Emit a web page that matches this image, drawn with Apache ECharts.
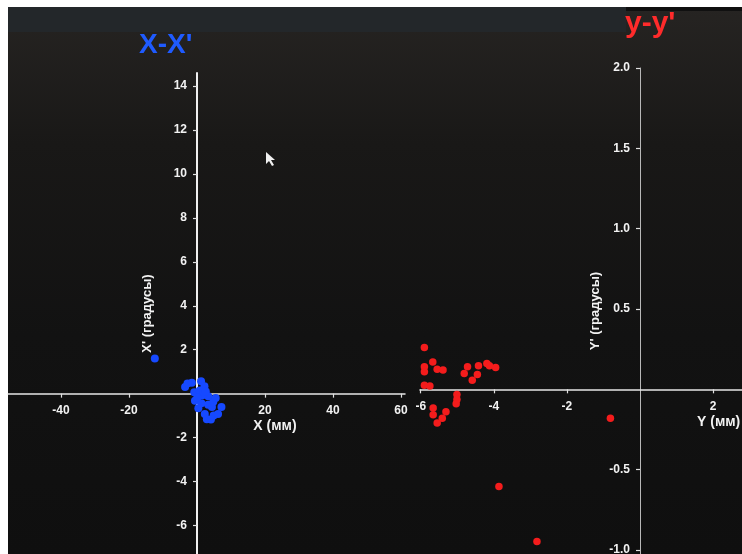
<!DOCTYPE html>
<html>
<head>
<meta charset="utf-8">
<script src="https://cdn.jsdelivr.net/npm/echarts@6/dist/echarts.min.js"></script>
<style>
html,body{margin:0;padding:0;background:#ffffff;overflow:hidden;}
#chart{width:742px;height:554px;}
</style>
</head>
<body>
<div id="chart"></div>
<script>
// X-X' plot (blue): X (mm) vs X' (degrees)
const blueX = [-12.4, -3.5, -2.8, -1.5, 1.2, 2.2, -0.8, 0.8, 3.3, -0.6, 1.3, 3.3, 4.8, 4.4, 7.2, 0.4, 2.3, 4.9, 6.2, 2.9, 4.1, 1.6, 0.1, 2.6, 5.5];
const blueY = [1.6, 0.3, 0.46, 0.5, 0.56, 0.34, 0.07, 0.14, -0.12, -0.32, -0.44, -0.51, -0.37, -0.61, -0.61, -0.66, -0.93, -0.99, -0.93, -1.17, -1.18, -0.07, -0.17, 0.1, -0.2];
// y-y' plot (red): Y (mm) vs Y' (degrees)
const redX = [-5.9, -5.67, -5.9, -5.9, -5.55, -5.39, -5.9, -5.75, -5.66, -5.66, -5.55, -5.41, -5.31, -5.01, -5.01, -5.03, -4.81, -4.72, -4.59, -4.45, -4.42, -4.19, -4.12, -3.95, -0.81, -3.86, -2.82];
const redY = [0.26, 0.17, 0.14, 0.11, 0.125, 0.12, 0.025, 0.02, -0.117, -0.158, -0.21, -0.18, -0.14, -0.033, -0.063, -0.09, 0.098, 0.14, 0.056, 0.092, 0.146, 0.16, 0.146, 0.136, -0.18, -0.605, -0.947];
// tick labels
const leftXTicks = [-40, -20, 20, 40, 60];
const leftYTicks = [-6, -4, -2, 2, 4, 6, 8, 10, 12, 14];
const rightXTicks = [-6, -4, -2, 2];
const rightYTicks = [-1.0, -0.5, 0.5, 1.0, 1.5, 2.0];

const titleLeft = "X-X'";
const titleRight = "y-y'";

const blueData = blueX.map((v, i) => [v, blueY[i]]);
const redData = redX.map((v, i) => [v, redY[i]]);

const FONT = 'Liberation Sans, Arial, sans-serif';
const labelStyle = {color: '#f2f2f2', fontWeight: 'bold', fontSize: 12, fontFamily: FONT};
const nameStyle = {color: '#f2f2f2', fontWeight: 'bold', fontSize: 14, fontFamily: FONT};

// grid layouts (pixels)
const G0 = {left: 8, top: 73, width: 397, height: 481};
const G1 = {left: 420, top: 68, width: 322, height: 486};
// axis ranges
const L_X = [-55.6, 61.2], L_Y = [-7.3, 14.6];
const R_X = [-6.02, 2.79], R_Y = [-1.025, 2.0];

// offsets that place each axis where the other axis is zero
function zeroOffsetX(g, r) { return -(g.width * (0 - r[0]) / (r[1] - r[0])); }
function zeroOffsetY(g, r) { return -(g.height * (0 - r[0]) / (r[1] - r[0])); }

function valAxis(gridIndex, range, ticks, fmt, lineColor, lineWidth, margin, extra) {
  return Object.assign({
    type: 'value',
    gridIndex: gridIndex,
    min: range[0],
    max: range[1],
    splitLine: {show: false},
    axisLine: {show: true, onZero: false, lineStyle: {color: lineColor, width: lineWidth}},
    axisTick: {show: true, length: 4, customValues: ticks, lineStyle: {color: '#e0e0e0', width: 1.2}},
    axisLabel: Object.assign({customValues: ticks, margin: margin, formatter: fmt}, labelStyle),
    nameMoveOverlap: false
  }, extra || {});
}

const chart = echarts.init(document.getElementById('chart'), null, {renderer: 'canvas'});
chart.setOption({
  animation: false,
  backgroundColor: '#ffffff',
  graphic: [
    {type: 'rect', z: -100, silent: true, shape: {x: 8, y: 7, width: 734, height: 547},
     style: {fill: {type: 'linear', x: 0, y: 0, x2: 0, y2: 1, colorStops: [
       {offset: 0, color: '#262422'}, {offset: 0.25, color: '#191817'}, {offset: 0.6, color: '#121212'}, {offset: 1, color: '#0f0f0f'}]}}},
    {type: 'rect', z: -99, silent: true, shape: {x: 8, y: 7, width: 618, height: 25}, style: {fill: '#23272a'}},
    {type: 'rect', z: -99, silent: true, shape: {x: 626, y: 7, width: 116, height: 4}, style: {fill: '#101010'}},
    {type: 'polygon', z: 50, silent: true, shape: {points: [[266, 152], [266, 164], [269, 161], [272, 166], [274, 165], [271, 160], [275, 160]]}, style: {fill: '#f0f0f0'}}
  ],
  title: [
    {text: titleLeft, left: 139, top: 31, padding: 0, textStyle: {color: '#1f5bff', fontSize: 28, fontWeight: 'bold', fontFamily: FONT}},
    {text: titleRight, left: 625, top: 9, padding: 0, textStyle: {color: '#ff2b2b', fontSize: 30, fontWeight: 'bold', fontFamily: FONT}}
  ],
  grid: [
    Object.assign({containLabel: false, outerBoundsMode: 'none'}, G0),
    Object.assign({containLabel: false, outerBoundsMode: 'none'}, G1)
  ],
  xAxis: [
    valAxis(0, L_X, leftXTicks, v => String(v), '#e6e6e6', 1.5, 11, {
      position: 'bottom', offset: zeroOffsetY(G0, L_Y),
      name: 'X (мм)', nameLocation: 'end', nameGap: -130,
      nameTextStyle: Object.assign({align: 'center', verticalAlign: 'top', padding: [25, 0, 0, 0]}, nameStyle)
    }),
    valAxis(1, R_X, rightXTicks, v => String(v), '#e6e6e6', 1.5, 11, {
      position: 'bottom', offset: zeroOffsetY(G1, R_Y),
      name: 'Y (мм)', nameLocation: 'end', nameGap: -45,
      nameTextStyle: Object.assign({align: 'left', verticalAlign: 'top', padding: [26, 0, 0, 0]}, nameStyle)
    })
  ],
  yAxis: [
    valAxis(0, L_Y, leftYTicks, v => String(v), '#f0f0f0', 2, 10, {
      position: 'left', offset: zeroOffsetX(G0, L_X),
      name: "X' (градусы)", nameLocation: 'middle', nameGap: 43, nameRotate: 90,
      nameTextStyle: Object.assign({}, nameStyle, {fontSize: 13})
    }),
    valAxis(1, R_Y, rightYTicks, v => v.toFixed(1), '#b8b8b8', 1, 10, {
      position: 'left', offset: zeroOffsetX(G1, R_X),
      name: "Y' (градусы)", nameLocation: 'middle', nameGap: 38, nameRotate: 90,
      nameTextStyle: Object.assign({}, nameStyle, {fontSize: 13})
    })
  ],
  series: [
    {type: 'scatter', name: titleLeft, xAxisIndex: 0, yAxisIndex: 0, data: blueData, symbolSize: 8,
     itemStyle: {color: '#1649ff', opacity: 1}},
    {type: 'scatter', name: titleRight, xAxisIndex: 1, yAxisIndex: 1, data: redData, symbolSize: 7.5,
     itemStyle: {color: '#f41c1c', opacity: 1}}
  ]
});
</script>
</body>
</html>
